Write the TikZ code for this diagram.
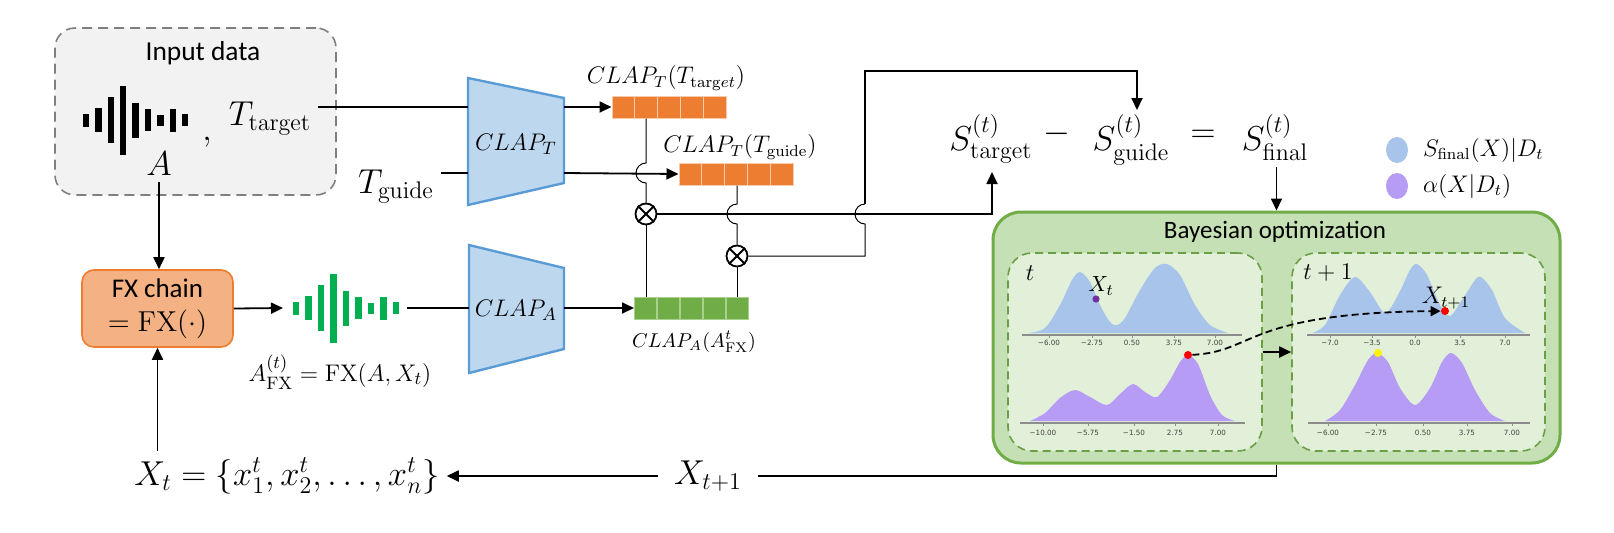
\documentclass[tikz,border=0pt]{standalone}
\usepackage[no-math]{fontspec}
\setmainfont{Carlito}
\newfontfamily\tickfont{DejaVu Sans}
\usepackage{amsmath}
\usetikzlibrary{calc,arrows.meta}

\definecolor{inputfill}{HTML}{F2F2F2}
\definecolor{inputdraw}{HTML}{7F7F7F}
\definecolor{fxfill}{HTML}{F4B183}
\definecolor{fxdraw}{HTML}{ED7D31}
\definecolor{clapfill}{HTML}{BDD7EE}
\definecolor{clapdraw}{HTML}{5B9BD5}
\definecolor{embT}{HTML}{ED7D31}
\definecolor{embTline}{HTML}{F8CBAD}
\definecolor{embA}{HTML}{70AD47}
\definecolor{embAline}{HTML}{A9D18E}
\definecolor{wavegreen}{HTML}{00B050}
\definecolor{bofill}{HTML}{C5E0B4}
\definecolor{bodraw}{HTML}{70AD47}
\definecolor{panelfill}{HTML}{E2F0D9}
\definecolor{paneldraw}{HTML}{6A9F45}
\definecolor{sblue}{HTML}{A9C4EB}
\definecolor{apurple}{HTML}{B79CF5}
\definecolor{dotpurple}{HTML}{7030A0}
\definecolor{axisgray}{HTML}{8C8C8C}

\begin{document}
\begin{tikzpicture}[x=0.5pt,y=-0.5pt,
  conn/.style={line width=0.9pt},
  thinconn/.style={line width=0.5pt},
  arr/.style={line width=0.9pt,-{Triangle[length=6pt,width=5.5pt]}},
  mathbig/.style={font=\fontsize{18}{21}\selectfont},
  inputbox/.style={draw=inputdraw,fill=inputfill,dash pattern=on 5pt off 3pt,line width=0.8pt,rounded corners=10pt,minimum width=140.5pt,minimum height=83.5pt},
  fxstyle/.style={draw=fxdraw,fill=fxfill,line width=0.8pt,rounded corners=6pt,minimum width=75.5pt,minimum height=38.5pt,align=center,font=\fontsize{13.5}{17}\selectfont},
  clapshape/.style={draw=clapdraw,fill=clapfill,line width=1.2pt},
  embbar/.style={minimum width=57pt,minimum height=11pt,inner sep=0pt,line width=0.5pt},
  mulnode/.style={circle,draw,fill=white,line width=0.9pt,minimum size=10.5pt,inner sep=0pt},
  bobox/.style={draw=bodraw,fill=bofill,line width=1.5pt,rounded corners=14pt,minimum width=283.5pt,minimum height=125.5pt},
  panel/.style={draw=paneldraw,fill=panelfill,dash pattern=on 4pt off 2.5pt,line width=0.8pt,rounded corners=12pt,minimum width=127pt,minimum height=99pt},
  ticklbl/.style={font=\tickfont\fontsize{3.6}{4}\selectfont,text=black!75,inner sep=0pt},
  dot/.style={circle,inner sep=0pt,minimum size=4pt}]

\useasboundingbox (0,0) rectangle (1614,532);

\node[inputbox] (inbox) at (195.5,111.5) {};
\node[font=\fontsize{13.7}{16}\selectfont] (lblinput) at (203,53) {Input data};
\foreach \h [count=\i] in {13,24,46,69,35,22,11,23,12}
  \fill ({86+12.4*(\i-1)-3.25},{120-\h/2}) rectangle ++(6.5,\h);
\node[mathbig,anchor=base] (lblcomma) at (207,140) {$,$};
\node[mathbig,anchor=base] (ttarget) at (270,125) {$T_{\mathrm{target}}$};
\node[mathbig,anchor=base] (lblA) at (159,175) {$A$};
\node[mathbig,anchor=base] (tguide) at (396,193) {$T_{\mathrm{guide}}$};

\node[fxstyle] (fxbox) at (157.5,308.5) {FX chain\\$=\mathrm{FX}(\cdot)$};
\foreach \h [count=\i] in {13,24,46,69,35,22,11,23,12}
  \fill[wavegreen] ({296+12.5*(\i-1)-3.25},{308-\h/2}) rectangle ++(6.5,\h);
\coordinate (wavein) at (283,308);
\coordinate (waveout) at (407,308);
\node[font=\fontsize{13}{15}\selectfont] (afx) at (340,372) {$A^{(t)}_{\mathrm{FX}}=\mathrm{FX}(A,X_t)$};

\draw[clapshape] (468,78) -- (564,98) -- (564,183) -- (468,205) -- cycle;
\node[font=\fontsize{13}{15}\selectfont] (clapT) at (516,144) {$CLAP_T$};
\coordinate (clapTin1) at (468,107);
\coordinate (clapTin2) at (468,173);
\coordinate (clapTout1) at (564,107);
\coordinate (clapTout2) at (564,173);
\draw[clapshape] (469,245) -- (564,268) -- (564,349) -- (469,373) -- cycle;
\node[font=\fontsize{13}{15}\selectfont] (clapA) at (516,310) {$CLAP_A$};
\coordinate (clapAin) at (469,308);
\coordinate (clapAout) at (564,308);

\node[embbar,fill=embT,draw=embTline] (embtarget) at (669,107) {};
\node[embbar,fill=embT,draw=embTline] (embguide) at (736,174) {};
\node[embbar,fill=embA,draw=embAline] (embaudio) at (691.5,308) {};
\foreach \e/\c in {embtarget/embTline,embguide/embTline,embaudio/embAline}
  \foreach \k in {1,...,4}
    \draw[\c,line width=0.8pt] ($(\e.south west)!\k/5!(\e.south east)$) -- ($(\e.north west)!\k/5!(\e.north east)$);
\node[font=\fontsize{11.5}{13}\selectfont] (lbltarget) at (666,78) {$CLAP_T(T_{\mathrm{targ}et})$};
\node[font=\fontsize{11.5}{13}\selectfont] (lblguide) at (740,147) {$CLAP_T(T_{\mathrm{guide}})$};
\node[font=\fontsize{10}{12}\selectfont] (lblaudio) at (694,342) {$CLAP_A(A^t_{\mathrm{FX}})$};

\node[mulnode] (mul1) at (646,214) {};
\draw[line width=0.9pt] (mul1.45) -- (mul1.225) (mul1.135) -- (mul1.315);
\node[mulnode] (mul2) at (737,256) {};
\draw[line width=0.9pt] (mul2.45) -- (mul2.225) (mul2.135) -- (mul2.315);

\draw[arr] (lblA.south) -- (lblA.south |- fxbox.north);
\draw[conn] (ttarget.east |- clapTin1) -- (clapTin1);
\draw[conn] (tguide.east |- clapTin2) -- (clapTin2);
\draw[arr] (clapTout1) -- (embtarget.west);
\draw[arr] (clapTout2) -- (embguide.west);
\draw[arr] (fxbox.east) -- (wavein);
\draw[conn] (waveout) -- (clapAin);
\draw[arr] (clapAout) -- (embaudio.west);

\draw[thinconn] (mul1.north |- embtarget.south) -- ($(mul1 |- clapTout2)+(0,-10)$) arc[start angle=270,end angle=90,radius=10] -- (mul1.north);
\draw[thinconn] (mul1.south) -- (mul1.south |- embaudio.north);
\draw[thinconn] (mul2.north |- embguide.south) -- ($(mul2 |- mul1)+(0,-10)$) arc[start angle=270,end angle=90,radius=10] -- (mul2.north);
\draw[thinconn] (mul2.south) -- (mul2.south |- embaudio.north);

\node[mathbig,anchor=base] (starget) at (991,150) {$S^{(t)}_{\mathrm{target}}$};
\node[mathbig,anchor=base] (minus) at (1057,142) {$-$};
\node[mathbig,anchor=base] (sguide) at (1131,150) {$S^{(t)}_{\mathrm{guide}}$};
\node[mathbig,anchor=base] (equals) at (1203,142) {$=$};
\node[mathbig,anchor=base] (sfinal) at (1275,150) {$S^{(t)}_{\mathrm{final}}$};
\coordinate (stargetin) at (992,172);
\coordinate (sguidein) at (1137,110);
\coordinate (loopfoot) at (865,256);
\coordinate (looptop) at (865,71);

\draw[arr] (mul1.east) -| (stargetin);
\draw[thinconn] (mul2.east) -- (loopfoot) -- ($(loopfoot |- mul1)+(0,10)$) arc[start angle=90,end angle=270,radius=10];
\draw[arr] ($(loopfoot |- mul1)+(0,-10)$) -- (looptop) -| (sguidein);

\node[bobox] (bo) at (1276.5,337.5) {};
\node[font=\fontsize{12.5}{15}\selectfont] (botitle) at (1275,232) {Bayesian optimization};
\node[panel] (panelL) at (1135,352) {};
\node[panel,minimum width=126.5pt] (panelR) at (1418.5,352) {};
\draw[arr] (bo.north |- sfinal.south) -- (bo.north);
\draw[arr] (panelL.east) -- (panelR.west);

\fill[sblue] plot[smooth] coordinates {(1028,333) (1045,328) (1060,305) (1072,280) (1080,272) (1090,282) (1100,305) (1110,322) (1117,325) (1125,318) (1140,290) (1155,268) (1167,264) (1180,275) (1195,305) (1210,325) (1228,333)} -- cycle;
\fill[apurple] plot[smooth] coordinates {(1030,421) (1045,413) (1060,398) (1075,390) (1090,397) (1107,405) (1120,394) (1133,384) (1145,392) (1157,397) (1170,380) (1180,362) (1188,355) (1198,364) (1210,395) (1222,415) (1235,421)} -- cycle;
\fill[sblue] plot[smooth] coordinates {(1312,333) (1325,325) (1340,295) (1355,277) (1370,292) (1385,313) (1398,295) (1410,270) (1417,264) (1427,275) (1440,305) (1450,316) (1462,300) (1475,280) (1481,277) (1492,290) (1505,318) (1525,333)} -- cycle;
\fill[apurple] plot[smooth] coordinates {(1325,421) (1340,410) (1355,385) (1368,360) (1377,353) (1388,362) (1400,388) (1415,405) (1430,388) (1442,362) (1451,353) (1462,363) (1475,390) (1490,413) (1505,421)} -- cycle;

\draw[axisgray,line width=0.6pt] (1022,335) -- (1242,335);
\draw[axisgray,line width=0.6pt] (1020,423) -- (1245,423);
\draw[axisgray,line width=0.6pt] (1307,335) -- (1530,335);
\draw[axisgray,line width=0.6pt] (1308,423) -- (1530,423);
\foreach \x/\t [count=\i] in {1049/−6.00,1092/−2.75,1132/0.50,1174/3.75,1215/7.00} {
  \draw[axisgray,line width=0.4pt] (\x,335) -- (\x,338);
  \node[ticklbl] (tickUL\i) at (\x,343) {\t};}
\foreach \x/\t [count=\i] in {1043/−10.00,1088/−5.75,1134/−1.50,1175/2.75,1218/7.00} {
  \draw[axisgray,line width=0.4pt] (\x,423) -- (\x,426);
  \node[ticklbl] (tickLL\i) at (\x,433) {\t};}
\foreach \x/\t [count=\i] in {1330/−7.0,1372/−3.5,1415/0.0,1460/3.5,1505/7.0} {
  \draw[axisgray,line width=0.4pt] (\x,335) -- (\x,338);
  \node[ticklbl] (tickUR\i) at (\x,343) {\t};}
\foreach \x/\t [count=\i] in {1328/−6.00,1376/−2.75,1423/0.50,1467/3.75,1512/7.00} {
  \draw[axisgray,line width=0.4pt] (\x,423) -- (\x,426);
  \node[ticklbl] (tickLR\i) at (\x,433) {\t};}

\node[font=\fontsize{12}{14}\selectfont] (lblt) at (1030,273) {$t$};
\node[font=\fontsize{12}{14}\selectfont] (lbltt) at (1328,273) {$t+1$};
\node[dot,fill=dotpurple,minimum size=3.6pt] (dotXt) at (1096,299) {};
\node[font=\fontsize{11}{13}\selectfont] (lblXt) at (1101,286) {$X_t$};
\node[dot,fill=red] (dotA) at (1188,355) {};
\node[dot,fill=red] (dotB) at (1445,311) {};
\node[dot,fill=yellow] (dotY) at (1378,353) {};
\node[font=\fontsize{11.5}{13}\selectfont] (lblXtt) at (1446,298) {$X_{t+1}$};
\draw[line width=0.9pt,dash pattern=on 3.5pt off 2pt,-{Triangle[length=5pt,width=5pt]}] (dotA) .. controls (1255,352) and (1245,313) .. (dotB);

\fill[sblue] (1397,150) ellipse[x radius=11,y radius=13];
\fill[apurple] (1397,186) ellipse[x radius=11,y radius=13];
\node[font=\fontsize{11.5}{13}\selectfont,anchor=west] (legS) at (1416,150) {$S_{\mathrm{final}}(X)|D_t$};
\node[font=\fontsize{11.5}{13}\selectfont,anchor=west] (legA) at (1416,186) {$\alpha(X|D_t)$};

\node[mathbig] (xset) at (287,476) {$X_t=\{x^t_1,x^t_2,\dots,x^t_n\}$};
\node[mathbig,inner xsep=8pt] (xnext) at (708,476) {$X_{t+1}$};
\draw[conn] (bo.south) |- (xnext.east);
\draw[arr] (xnext.west) -- (xnext.west -| xset.east);
\draw[arr] (fxbox.south |- xset.north) -- (fxbox.south);
\end{tikzpicture}
\end{document}
